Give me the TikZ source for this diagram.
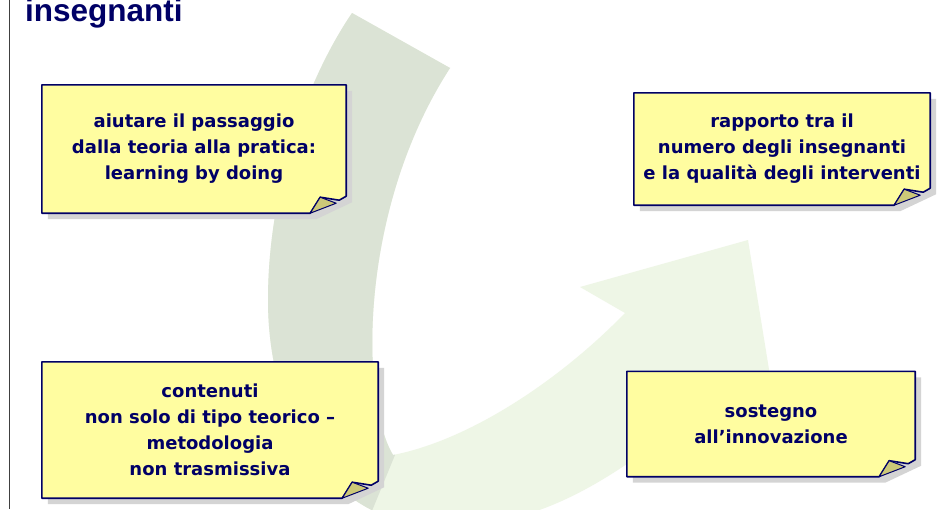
\documentclass[tikz,border=0pt]{standalone}
\usepackage{fontspec}
\setmainfont{DejaVu Sans}
\newfontfamily\titlefont{Liberation Sans}
\usepackage{xcolor}
\usepackage{tikz}
\usetikzlibrary{calc, backgrounds}
\definecolor{notenavy}{RGB}{0,0,102}
\definecolor{noteyellow}{RGB}{255,253,160}
\definecolor{notefold}{RGB}{204,200,120}
\definecolor{noteshadow}{RGB}{212,212,212}
\definecolor{arrdark}{RGB}{219,227,213}
\definecolor{arrlight}{RGB}{238,246,230}
\definecolor{framegray}{RGB}{64,64,64}
\newcommand{\stickynote}[1]{%
  \fill[noteshadow] ($(#1.north west)+(6,6)$) -- ($(#1.north east)+(6,6)$)
    -- ($(#1.south east)+(6,-11)$) -- ($(#1.south east)+(-30,6)$)
    -- ($(#1.south west)+(6,6)$) -- cycle;
  \filldraw[fill=noteyellow,draw=notenavy,line width=1.6pt,line join=round]
    (#1.north west) -- (#1.north east) -- ($(#1.south east)+(0,-17)$)
    -- ($(#1.south east)+(-7,-13)$) -- ($(#1.south east)+(-26,-16)$)
    -- ($(#1.south east)+(-36,0)$) -- (#1.south west) -- cycle;
  \filldraw[fill=notefold,draw=notenavy,line width=1pt,line join=round]
    ($(#1.south east)+(-26,-16)$) -- ($(#1.south east)+(-36,0)$)
    -- ($(#1.south east)+(-10,-10)$) -- cycle;}

\begin{document}
\begin{tikzpicture}[x=1pt,y=-1pt,
  every node/.style={inner sep=0pt},
  notetext/.style={align=center,text=notenavy,
    font=\fontsize{18}{26}\selectfont\bfseries}]
  \useasboundingbox (0,0) rectangle (944,509);
  \node[anchor=base west,text=notenavy,font=\titlefont\bfseries\fontsize{31.5}{32}\selectfont]
    (title) at (25,21) {insegnanti};
  % the four notes
  \node[notetext,minimum width=304pt,minimum height=128pt] (teoria) at (194,149)
    {aiutare il passaggio\\dalla teoria alla pratica:\\learning by doing};
  \node[notetext,minimum width=296pt,minimum height=112pt] (rapporto) at (782,149)
    {rapporto tra il\\numero degli insegnanti\\e la qualità degli interventi};
  \node[notetext,minimum width=336pt,minimum height=136pt] (contenuti) at (210,430)
    {contenuti\\non solo di tipo teorico –\\metodologia\\non trasmissiva};
  \node[notetext,minimum width=288pt,minimum height=105pt] (sostegno) at (771,424)
    {sostegno\\all’innovazione};
  \begin{scope}[on background layer]
    \fill[white] (0,0) rectangle (944,509);
    \draw[framegray,line width=1.6pt] (9.5,0) coordinate (ftop) -- (9.5,509) coordinate (fbot);
    % curved arrow behind the notes
    \def\arrowpath{(352,13) .. controls (300,90) and (268,200) .. (268,300)
      .. controls (268,420) and (330,530) .. (450,527)
      .. controls (530,525) and (590,490) .. (640,455)
      -- (690,428) -- (778,425) -- (748,240) -- (580,287) -- (625,313)
      .. controls (560,380) and (470,440) .. (393,455)
      .. controls (360,400) and (358,210) .. (450,68) -- cycle}
    \fill[arrlight] \arrowpath;
    \begin{scope}
      \clip \arrowpath;
      \fill[arrdark] (200,-10) -- (480,-10) -- (480,80) -- (395,455) -- (360,540)
        -- (200,540) -- cycle;
    \end{scope}
    \stickynote{teoria}
    \stickynote{rapporto}
    \stickynote{contenuti}
    \stickynote{sostegno}
  \end{scope}
\end{tikzpicture}
\end{document}
